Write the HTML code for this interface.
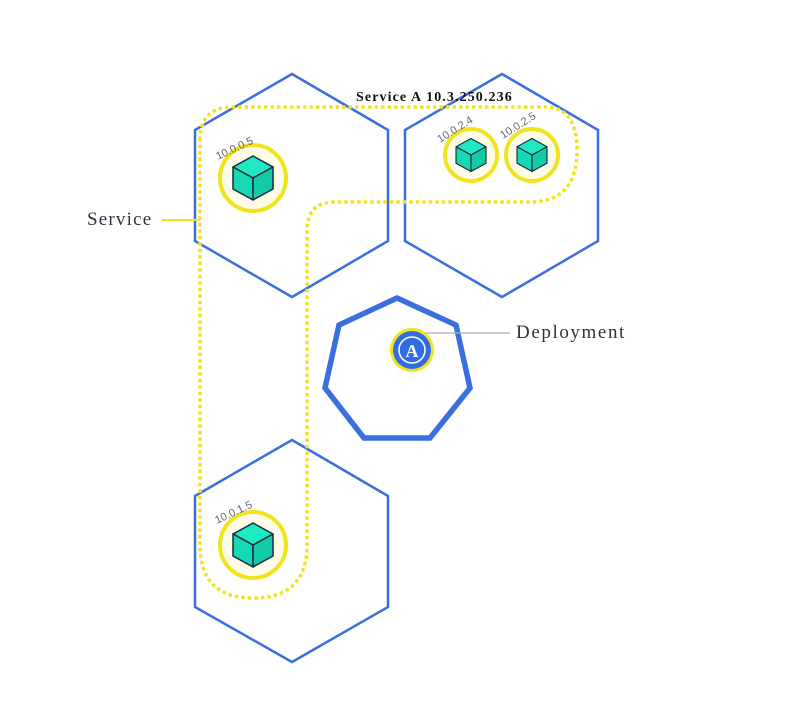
<!DOCTYPE html>
<html><head><meta charset="utf-8"><style>
html,body{margin:0;padding:0;background:#fff;width:800px;height:727px;overflow:hidden}
svg{display:block}
</style></head><body>
<svg width="800" height="727" viewBox="0 0 800 727" xmlns="http://www.w3.org/2000/svg">
<defs>
<g id="cube">
<polygon points="0,-22 20,-11 0,0 -20,-11" fill="#1de9c4" stroke="#1a2a3a" stroke-width="1.5" stroke-linejoin="round"/>
<polygon points="-20,-11 0,0 0,22 -20,11" fill="#17d8b4" stroke="#1a2a3a" stroke-width="1.5" stroke-linejoin="round"/>
<polygon points="20,-11 0,0 0,22 20,11" fill="#14c9a6" stroke="#1a2a3a" stroke-width="1.5" stroke-linejoin="round"/>
</g>
</defs>
<g fill="none" stroke="#3b6fe0" stroke-width="2.5" stroke-linejoin="miter">
<polygon points="292,74 388,130 388,241 292,297 195,241 195,130"/>
<polygon points="502,74 598,130 598,241 502,297 405,241 405,130"/>
<polygon points="292,440 388,496 388,607 292,662 195,607 195,496"/>
<polygon points="397,298 456,325 470,388 430,438 364,438 325,388 339,325" stroke-width="5.5"/>
</g>
<path d="M200,140 Q200,107 233,107 L545,107 Q577,107 577,150 Q577,202 530,202 L335,202 Q307,202 307,230 L307,545 Q307,598 253,598 Q200,598 200,545 Z" fill="none" stroke="#f0e420" stroke-width="3.5" stroke-dasharray="3.5 3"/>
<line x1="162" y1="220" x2="200" y2="220" stroke="#f0e420" stroke-width="2"/>
<text x="87" y="225" font-family="'Liberation Serif',serif" font-size="19" letter-spacing="1.2" fill="#2a3340">Service</text>
<text x="356" y="101" font-family="'Liberation Serif',serif" font-size="14" font-weight="bold" letter-spacing="1.1" fill="#111">Service A 10.3.250.236</text>
<g stroke="#f0e420" stroke-width="4" fill="#fffdea">
<circle cx="253" cy="178" r="33"/>
<circle cx="471" cy="155" r="26"/>
<circle cx="532" cy="155" r="26"/>
<circle cx="253" cy="545" r="33"/>
</g>
<use href="#cube" x="253" y="178"/>
<use href="#cube" x="253" y="545"/>
<g transform="translate(471,155) scale(0.75)"><use href="#cube"/></g>
<g transform="translate(532,155) scale(0.75)"><use href="#cube"/></g>
<g font-family="'Liberation Sans',sans-serif" font-size="11" fill="#667">
<text transform="translate(218,160) rotate(-25)">10.0.0.5</text>
<text transform="translate(440,143) rotate(-32)">10.0.2.4</text>
<text transform="translate(503,139) rotate(-32)">10.0.2.5</text>
<text transform="translate(217,524) rotate(-25)">10.0.1.5</text>
</g>
<line x1="414" y1="333" x2="510" y2="333" stroke="#aab" stroke-width="1.2"/>
<circle cx="412" cy="350" r="22" fill="#f0e420"/>
<circle cx="412" cy="350" r="19" fill="#326ce5"/>
<circle cx="412" cy="350" r="13" fill="none" stroke="#fff" stroke-width="1.5"/>
<text x="412" y="357" text-anchor="middle" font-family="'Liberation Serif',serif" font-weight="bold" font-size="18" fill="#fff">A</text>
<text x="516" y="338" font-family="'Liberation Serif',serif" font-size="19" letter-spacing="1.6" fill="#2a3340">Deployment</text>
</svg>
</body></html>
